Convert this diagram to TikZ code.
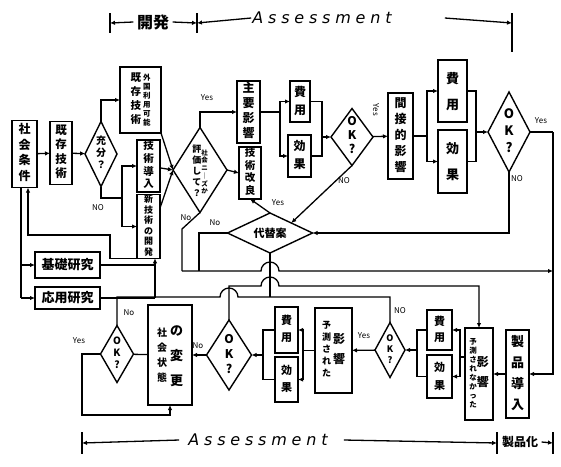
\documentclass[tikz,border=0pt]{standalone}
\usepackage{fontspec}
\setmainfont{Noto Sans CJK JP}
\newfontfamily\handfont[LetterSpace=30]{DejaVu Sans}
\usetikzlibrary{arrows.meta,positioning,shapes.geometric}

% vertical text column
\newcommand{\tate}[3]{{\fontsize{#1}{#2}\selectfont\bfseries\begin{tabular}{@{}c@{}}#3\end{tabular}}}

\tikzset{
    bx/.style={rectangle, draw, line width=1.4pt, inner sep=0pt, outer sep=0pt},
    dm/.style={diamond, draw, line width=1.4pt, inner sep=0pt, outer sep=0pt},
    ln/.style={line width=1.3pt},
    arr/.style={line width=1.3pt, -{Latex[length=5pt,width=4.5pt]}},
    yn/.style={font=\fontsize{8}{9}\selectfont, inner sep=1pt},
    hand/.style={font=\handfont\itshape\fontsize{16}{18}\selectfont, inner sep=1pt},
}

\begin{document}
\begin{tikzpicture}[x=1pt, y=-1pt]
    \useasboundingbox (0,0) rectangle (561,466);

    % --- upper row
    \node[bx, minimum width=25pt, minimum height=67pt] (sj) at (24.5,154) {\tate{12}{15.5}{社\\会\\条\\件}};
    \node[bx, minimum width=22pt, minimum height=63pt] (kz) at (61,153) {\tate{11.5}{14.5}{既\\存\\技\\術}};
    \node[dm, minimum width=32pt, minimum height=65pt] (jb) at (101,154) {};
    \node[inner sep=0pt] (jbt) at (jb) {\tate{10}{12}{充\\分\\？}};
    \node[bx, minimum width=41pt, minimum height=66pt] (gk) at (140.5,100) {\tate{10.5}{14}{既\\存\\技\\術}\hspace{2pt}\tate{7.5}{9}{外\\国\\利\\用\\可\\能}};
    \node[bx, minimum width=23pt, minimum height=52pt] (dn) at (148.5,166) {\tate{10.5}{12.5}{技\\術\\導\\入}};
    \node[bx, minimum width=23pt, minimum height=63pt] (sk) at (148.5,226.5) {\tate{9}{10.2}{新\\技\\術\\の\\開\\発}};
    \node[dm, minimum width=54pt, minimum height=85pt] (nd) at (200,170) {};
    \node[inner sep=0pt] (ndt) at (200,172) {\tate{9}{11}{評\\価\\し\\て\\？}\tate{6.5}{7.5}{社\\会\\ニ\\｜\\ズ\\か}};
    \node[bx, minimum width=23pt, minimum height=62pt] (sy) at (248.5,112) {\tate{12}{15}{主\\要\\影\\響}};
    \node[bx, minimum width=22pt, minimum height=52pt] (kr) at (250,173) {\tate{10.5}{12.5}{技\\術\\改\\良}};
    \node[bx, minimum width=20pt, minimum height=41pt] (h1) at (300,101.5) {\tate{12}{18}{費\\用}};
    \node[bx, minimum width=23pt, minimum height=42pt] (k1) at (299.5,156) {\tate{12}{18}{効\\果}};
    \node[dm, minimum width=42pt, minimum height=57pt] (ok1) at (352,137) {};
    \node[inner sep=0pt] (ok1t) at (ok1) {\tate{12}{14}{O\\K\\?}};
    \node[bx, minimum width=25pt, minimum height=86pt] (kan) at (400.5,136) {\tate{12}{16}{間\\接\\的\\影\\響}};
    \node[bx, minimum width=29pt, minimum height=62pt] (h2) at (452.5,91) {\tate{13}{26}{費\\用}};
    \node[bx, minimum width=29pt, minimum height=63pt] (k2) at (452.5,161.5) {\tate{13}{26}{効\\果}};
    \node[dm, minimum width=42pt, minimum height=80pt] (ok2) at (509,132) {};
    \node[inner sep=0pt] (ok2t) at (ok2) {\tate{13}{17}{O\\K\\?}};
    \node[dm, minimum width=85pt, minimum height=40pt] (dai) at (270,233) {};
    \node[inner sep=0pt, font=\fontsize{11}{12}\selectfont\bfseries] (dait) at (dai) {代替案};
    \node[bx, minimum width=65pt, minimum height=26pt, font=\fontsize{13}{14}\selectfont\bfseries] (kiso) at (67.5,265) {基礎研究};
    \node[bx, minimum width=65pt, minimum height=22pt, font=\fontsize{13}{14}\selectfont\bfseries] (oyo) at (67.5,298) {応用研究};

    % --- lower row
    \node[dm, minimum width=33pt, minimum height=57pt] (okA) at (117,354) {};
    \node[inner sep=0pt] (okAt) at (okA) {\tate{10}{12}{O\\K\\?}};
    \node[bx, minimum width=44pt, minimum height=100pt] (hen) at (170,355) {\tate{10}{15}{社\\会\\状\\態}\hspace{3pt}\tate{13}{25}{の\\変\\更}};
    \node[dm, minimum width=45pt, minimum height=70pt] (okB) at (229,355) {};
    \node[inner sep=0pt] (okBt) at (okB) {\tate{12}{15}{O\\K\\?}};
    \node[bx, minimum width=23pt, minimum height=46pt] (h3) at (286.5,330) {\tate{11}{17}{費\\用}};
    \node[bx, minimum width=23pt, minimum height=45pt] (k3) at (286.5,379.5) {\tate{11}{17}{効\\果}};
    \node[bx, minimum width=37pt, minimum height=85pt] (yos) at (333.5,350.5) {\tate{9}{12}{予\\測\\さ\\れ\\た}\hspace{2pt}\tate{12}{20}{影\\響}};
    \node[dm, minimum width=30pt, minimum height=55pt] (okC) at (390,350) {};
    \node[inner sep=0pt] (okCt) at (okC) {\tate{9}{11}{O\\K\\?}};
    \node[bx, minimum width=25pt, minimum height=40pt] (h4) at (439.5,330) {\tate{11}{16}{費\\用}};
    \node[bx, minimum width=25pt, minimum height=43pt] (k4) at (439.5,376.5) {\tate{11}{18}{効\\果}};
    \node[bx, minimum width=28pt, minimum height=92pt] (yoki) at (479,374) {\tate{7.5}{9}{予\\測\\さ\\れ\\な\\か\\っ\\た}\tate{12}{20}{影\\響}};
    \node[bx, minimum width=23pt, minimum height=88pt] (dony) at (517.5,374) {\tate{13}{21}{製\\品\\導\\入}};

    % --- junctions
    \coordinate (jn) at (122,198);
    \coordinate (sL) at (21,298);
    \coordinate (fb) at (28,235);
    \coordinate (ku) at (155,298);
    \coordinate (b1) at (280,112);
    \coordinate (b2) at (322,137);
    \coordinate (b3) at (427,136);
    \coordinate (b4) at (476,132);
    \coordinate (rr) at (553,132);
    \coordinate (nk) at (182,229);
    \coordinate (n1) at (182,271);
    \coordinate (n2) at (199,271);
    \coordinate (n3) at (270,297);
    \coordinate (l2) at (479,286);
    \coordinate (b5) at (460,357);
    \coordinate (b6) at (417,350);
    \coordinate (b7) at (303,350.5);
    \coordinate (b8) at (263,355);

    % --- upper connectors
    \draw[arr] (sj) -- (kz);
    \draw[arr] (kz) -- (jb);
    \draw[arr] (jb.north) |- (gk);
    \draw[ln]  (jb.south) |- (jn);
    \draw[arr] (jn) |- (dn);
    \draw[arr] (jn) |- (sk);
    \draw[arr] (gk.south east) -- (nd.west);
    \draw[arr] (dn) -- (nd.west);
    \draw[arr] (sk.58) -- (nd.west);
    \draw[arr] (nd.north) |- (sy);
    \draw[arr] (nd.east) -- (kr.west);
    \draw[ln]  (sy) -- (b1);
    \draw[arr] (b1) |- (h1);
    \draw[arr] (b1) |- (k1);
    \draw[ln]  (h1) -| (b2);
    \draw[ln]  (k1) -| (b2);
    \draw[arr] (b2) -- (ok1);
    \draw[arr] (ok1) -- (kan);
    \draw[arr] (ok1.south) -- (dai.north east);
    \draw[ln]  (kan) -- (b3);
    \draw[arr] (b3) |- (h2);
    \draw[arr] (b3) |- (k2);
    \draw[ln]  (h2) -| (b4);
    \draw[ln]  (k2) -| (b4);
    \draw[arr] (b4) -- (ok2);
    \draw[ln]  (ok2) -- (rr);
    \draw[arr] (rr) |- (dony);
    \draw[arr] (ok2.south) |- (dai.east);
    \draw[arr] (dai.north) .. controls (262,207) .. (kr.south);

    % --- left side
    \draw[ln]  (sj.south -| sL) -- (sL);
    \draw[arr] (sL |- kiso) -- (kiso);
    \draw[arr] (sL) -- (oyo);
    \draw[ln]  (oyo) -- (ku);
    \draw[ln]  (kiso) -- (kiso -| ku);
    \draw[arr] (ku) -- (ku |- sk.south);
    \draw[arr] (sk.south west) -| (110,235) -- (fb) -- (fb |- sj.south);

    % --- middle lines
    \draw[ln]  (nd.south) -- (nk) -- (n1);
    \draw[ln]  (dai.west) -| (n2);
    \draw[arr] (n1) -- (261,271) arc (180:360:9) -- (rr |- n1);
    \draw[ln]  (dai.south) -- (n3);
    \draw[ln]  (okA.north) |- (220,297) arc (180:360:9) -- (390,297) -- (okC.north);
    \draw[arr] (okB.north) |- (261,286) arc (180:360:9) -- (l2) -- (yoki.north);

    % --- lower connectors
    \draw[arr] (dony) -- (yoki);
    \draw[ln]  (yoki.west |- b5) -- (b5);
    \draw[arr] (b5) |- (h4);
    \draw[arr] (b5) |- (k4);
    \draw[ln]  (h4) -| (b6);
    \draw[ln]  (k4) -| (b6);
    \draw[arr] (b6) -- (okC);
    \draw[arr] (okC) -- (yos);
    \draw[ln]  (yos) -- (b7);
    \draw[arr] (b7) |- (h3);
    \draw[arr] (b7) |- (k3);
    \draw[ln]  (h3) -| (b8);
    \draw[ln]  (k3) -| (b8);
    \draw[arr] (b8) -- (okB);
    \draw[arr] (okB) -- (hen);
    \draw[ln]  (hen) -- (okA);
    \draw[arr] (okA.west) -| (82,415) -| (hen.south);

    % --- yes / no
    \node[yn] (ya) at (207,98) {Yes};
    \node[yn] (na) at (98,208) {NO};
    \node[yn, rotate=-90] (yb) at (376,110) {Yes};
    \node[yn] (nb) at (344,181) {NO};
    \node[yn] (yc) at (541,121) {Yes};
    \node[yn] (nc) at (517,179) {NO};
    \node[yn] (yd) at (278,203) {Yes};
    \node[yn] (nd2) at (215,223) {No};
    \node[yn] (ne) at (186,218) {No};
    \node[yn] (nf) at (129,313) {No};
    \node[yn] (ye) at (79,341) {Yes};
    \node[yn] (ng) at (198,346) {No};
    \node[yn] (yf) at (364,336) {Yes};
    \node[yn] (nh) at (400,311) {NO};

    % --- top scale
    \coordinate (ta) at (110,23);
    \coordinate (tb) at (197,23);
    \coordinate (tc) at (512,23);
    \node[font=\fontsize{16}{17}\selectfont\bfseries] (kai) at (153,22) {開発};
    \node[hand] (asA) at (322,18) {Assessment};
    \draw[ln]  (ta) ++(0,-10) -- ++(0,20);
    \draw[ln]  (tb) ++(0,-10) -- ++(0,20);
    \draw[ln]  (tc) ++(0,-10) -- ++(0,39);
    \draw[arr] (kai.west) -- (ta);
    \draw[arr] (kai.east) -- (tb);
    \draw[arr] (asA.west) -- (tb);
    \draw[arr] ([xshift=52pt]asA.east) -- (tc);

    % --- bottom scale
    \coordinate (ba) at (82,443);
    \coordinate (bb) at (497,443);
    \coordinate (bc) at (553,443);
    \node[hand] (asB) at (258,440) {Assessment};
    \node[font=\fontsize{12}{13}\selectfont\bfseries] (sei) at (520,442) {製品化};
    \draw[ln]  (ba) ++(0,-11) -- ++(0,22);
    \draw[ln]  (bb) ++(0,-11) -- ++(0,22);
    \draw[ln]  (bc) ++(0,-11) -- ++(0,22);
    \draw[arr] ([xshift=-8pt]asB.west) -- (ba);
    \draw[arr] ([xshift=15pt]asB.east) -- (bb);
    \draw[arr] (sei.east) -- (bc);
\end{tikzpicture}
\end{document}
